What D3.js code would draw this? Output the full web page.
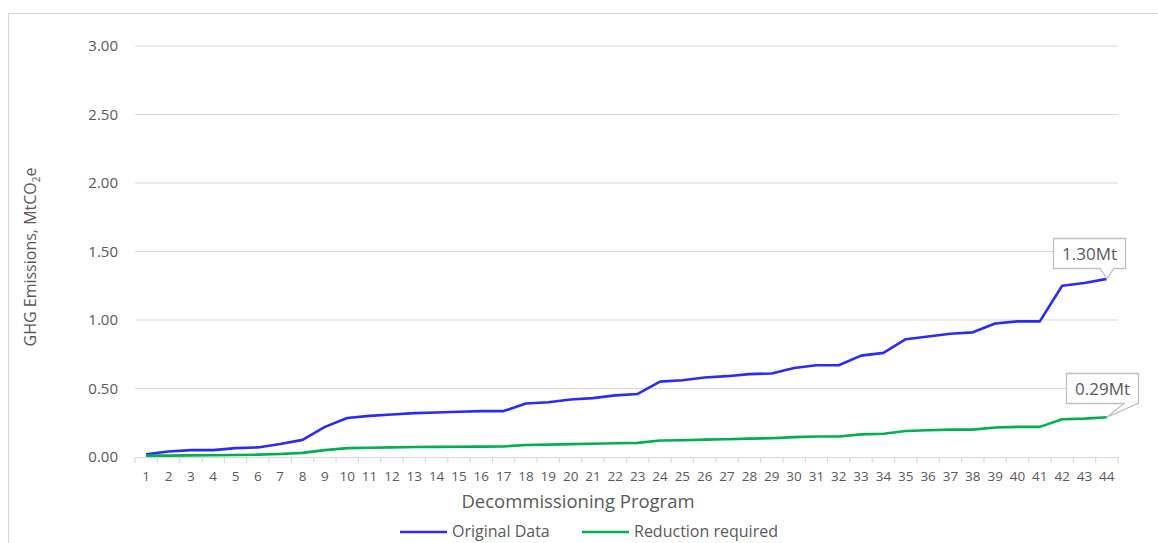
<!DOCTYPE html>
<html><head><meta charset="utf-8">
<script src="https://cdn.jsdelivr.net/npm/d3@7"></script>
<style>
html,body{margin:0;padding:0;background:#fff;}
svg{display:block;font-family:"Open Sans","Noto Sans",sans-serif;}
</style></head>
<body>
<svg id="chart" width="1158" height="543"></svg>
<script>
const programs = d3.range(1, 45).map(String);
const originalData = [0.02,0.04,0.05,0.05,0.065,0.07,0.095,0.125,0.22,0.285,0.30,0.31,0.32,0.325,0.33,0.335,0.335,0.39,0.40,0.42,0.43,0.45,0.46,0.55,0.56,0.58,0.59,0.605,0.61,0.65,0.67,0.67,0.74,0.76,0.86,0.88,0.90,0.91,0.975,0.99,0.99,1.25,1.27,1.30];
const reductionRequired = [0.01,0.01,0.012,0.013,0.015,0.017,0.022,0.03,0.05,0.065,0.068,0.07,0.073,0.074,0.075,0.076,0.077,0.088,0.09,0.094,0.097,0.10,0.103,0.12,0.122,0.127,0.13,0.134,0.137,0.145,0.15,0.15,0.165,0.17,0.19,0.195,0.20,0.20,0.215,0.22,0.22,0.275,0.28,0.29];
const yTicks = [0,0.5,1,1.5,2,2.5,3];
const seriesNames = ["Original Data","Reduction required"];
const seriesColors = ["#2b2bf5","#00b050"];
const callouts = ["1.30Mt","0.29Mt"];

(function(){
const svg = d3.select("#chart");
const mLeft = 135, mRight = 1118, mTop = 46, mBottom = 457;
const x = d3.scaleBand().domain(programs).range([mLeft, mRight]);
const y = d3.scaleLinear().domain([0,3]).range([mBottom, mTop]);
const txt = "#595959", grid = "#d9d9d9";

svg.append("rect").attr("x",8.5).attr("y",13.5).attr("width",1170).attr("height",560)
  .attr("fill","none").attr("stroke",grid);

svg.append("g").selectAll("line").data(yTicks.filter(d=>d>0)).join("line")
  .attr("x1",mLeft).attr("x2",mRight).attr("y1",d=>y(d)).attr("y2",d=>y(d))
  .attr("stroke",grid).attr("stroke-width",1.2);

svg.append("g").selectAll("text").data(yTicks).join("text")
  .attr("x",118).attr("y",d=>y(d)).attr("dy","0.35em").attr("text-anchor","end")
  .attr("fill",txt).attr("font-size",15).text(d=>d3.format(".2f")(d));

const xAxis = svg.append("g").attr("transform",`translate(0,${mBottom})`)
  .call(d3.axisBottom(x).tickSize(0).tickPadding(14));
xAxis.select(".domain").attr("stroke",grid).attr("stroke-width",1.2);
xAxis.selectAll("text").attr("fill",txt).attr("font-size",13.5).attr("font-family","Open Sans, sans-serif");
const bounds = programs.map(p=>x(p)).concat([mRight]);
svg.append("g").selectAll("line").data(bounds).join("line")
  .attr("x1",d=>d).attr("x2",d=>d).attr("y1",mBottom).attr("y2",mBottom+6)
  .attr("stroke",grid).attr("stroke-width",1.2);

svg.append("text").attr("x",578).attr("y",508).attr("text-anchor","middle")
  .attr("fill",txt).attr("font-size",18.5).text("Decommissioning Program");
const yt = svg.append("text").attr("transform","translate(36,257) rotate(-90)")
  .attr("text-anchor","middle").attr("fill",txt).attr("font-size",16);
yt.append("tspan").text("GHG Emissions, MtCO");
yt.append("tspan").attr("font-size",10).attr("dy",4).text("2");
yt.append("tspan").attr("dy",-4).text("e");

const cx = p => x(p) + x.bandwidth()/2;
const line = d3.line().x((d,i)=>cx(programs[i])).y(d=>y(d));
[originalData, reductionRequired].forEach((s,k)=>{
  svg.append("path").datum(s).attr("d",line).attr("fill","none")
    .attr("stroke",seriesColors[k]).attr("stroke-width",2.6).attr("stroke-linejoin","round");
});

function callout(val, label, bx, by, bw, bh, p1, p2){
  const px = cx(programs[programs.length-1]), py = y(val);
  const g = svg.append("g");
  const path = `M${bx},${by} H${bx+bw} V${by+bh} H${p2} L${px},${py} L${p1},${by+bh} H${bx} Z`;
  g.append("path").attr("d",path).attr("fill","#fff").attr("stroke","#bfbfbf").attr("stroke-width",1.3);
  g.append("text").attr("x",bx+bw/2).attr("y",by+bh/2).attr("dy","0.36em").attr("text-anchor","middle")
    .attr("fill",txt).attr("font-size",17).text(label);
}
callout(originalData[43], callouts[0], 1053.5, 238.5, 72, 30, 1100, 1114);
callout(reductionRequired[43], callouts[1], 1066.5, 373.5, 72, 30, 1124, 1138);

const lg = svg.append("g");
const lx = [400, 582];
seriesNames.forEach((n,i)=>{
  lg.append("line").attr("x1",lx[i]).attr("x2",lx[i]+47).attr("y1",532).attr("y2",532)
    .attr("stroke",seriesColors[i]).attr("stroke-width",2.6);
  lg.append("text").attr("x",lx[i]+52).attr("y",532).attr("dy","0.34em")
    .attr("fill",txt).attr("font-size",16).text(n);
});
})();
</script>
</body></html>
